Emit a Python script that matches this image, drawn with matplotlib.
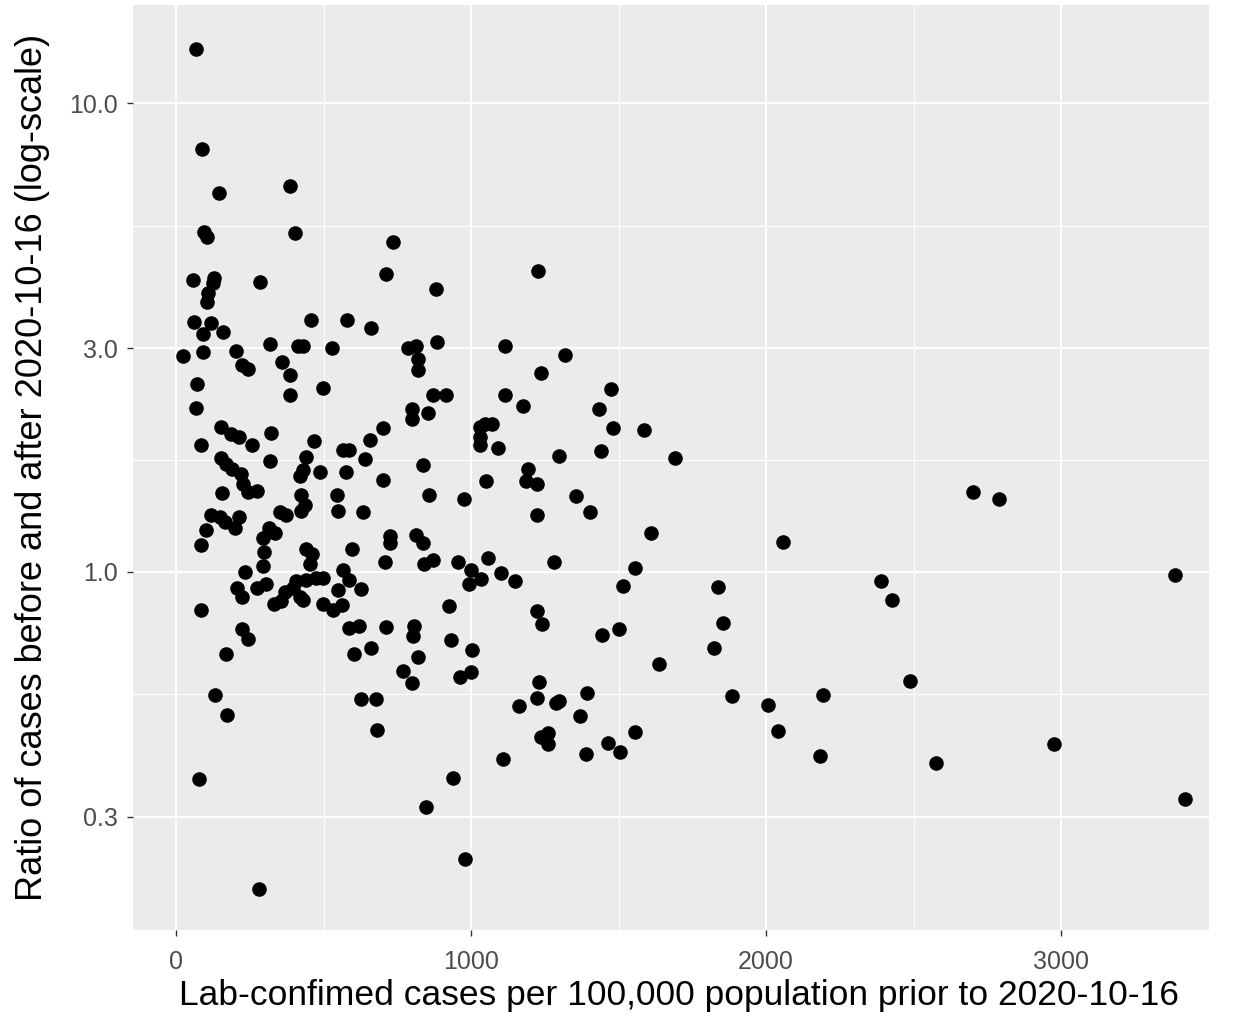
import matplotlib
matplotlib.use("Agg")
import matplotlib.pyplot as plt
from matplotlib.ticker import FixedLocator, NullFormatter
import numpy as np

plt.rcParams['font.family'] = ['Liberation Sans', 'DejaVu Sans']

# Lab-confirmed cases per 100,000 prior to 2020-10-16
cases_prior = [
    68, 87, 144, 385, 93, 104, 402, 734, 57, 128,
    125, 108, 104, 282, 712, 882, 59, 119, 91, 157,
    455, 578, 661, 21, 91, 202, 318, 412, 429, 529,
    785, 811, 819, 819, 883, 222, 243, 359, 385, 385,
    497, 70, 65, 869, 915, 798, 799, 853, 153, 185,
    212, 255, 322, 83, 468, 153, 170, 190, 218, 226,
    243, 274, 316, 441, 429, 419, 488, 154, 119, 149,
    164, 213, 198, 102, 82, 351, 373, 423, 435, 423,
    315, 334, 294, 296, 294, 440, 461, 453, 700, 655,
    565, 584, 638, 574, 700, 836, 857, 545, 548, 633,
    723, 723, 812, 836, 597, 709, 841, 870, 954, 976,
    1058, 233, 204, 221, 272, 305, 407, 441, 475, 497,
    367, 396, 330, 356, 418, 429, 565, 586, 548, 627,
    496, 531, 562, 82, 224, 243, 170, 584, 621, 712,
    806, 804, 659, 604, 819, 930, 1003, 768, 800, 962,
    1000, 130, 173, 627, 678, 681, 77, 937, 845, 979,
    280, 1000, 1033, 994, 924, 1228, 1115, 1319, 1237, 1115,
    1174, 1474, 1434, 1479, 1586, 1028, 1045, 1071, 1028, 1030,
    1090, 1299, 1441, 1690, 1191, 1186, 1222, 1050, 1355, 1404,
    1222, 1611, 2058, 1101, 1150, 1282, 1555, 1516, 1835, 1222,
    1240, 1443, 1502, 1852, 1823, 1637, 1231, 1222, 1163, 1287,
    1296, 1391, 1370, 1883, 2005, 2040, 1237, 1259, 1259, 1462,
    1505, 1389, 1556, 1107, 2701, 2791, 2391, 2425, 3387, 2489,
    2192, 2181, 2577, 2975, 3421,
]

# Ratio of cases before and after 2020-10-16
case_ratio = [
    13.06, 7.98, 6.44, 6.67, 5.30, 5.17, 5.28, 5.05, 4.20, 4.23,
    4.13, 3.93, 3.76, 4.16, 4.31, 4.02, 3.42, 3.40, 3.21, 3.25,
    3.45, 3.45, 3.32, 2.89, 2.94, 2.96, 3.06, 3.04, 3.03, 3.01,
    3.01, 3.03, 2.84, 2.69, 3.09, 2.76, 2.71, 2.81, 2.63, 2.38,
    2.47, 2.52, 2.24, 2.38, 2.38, 2.23, 2.12, 2.18, 2.04, 1.97,
    1.94, 1.86, 1.98, 1.86, 1.90, 1.75, 1.70, 1.66, 1.62, 1.54,
    1.48, 1.49, 1.72, 1.76, 1.65, 1.60, 1.63, 1.47, 1.32, 1.31,
    1.28, 1.31, 1.24, 1.23, 1.14, 1.34, 1.32, 1.46, 1.39, 1.35,
    1.24, 1.21, 1.18, 1.10, 1.03, 1.12, 1.09, 1.04, 2.03, 1.91,
    1.82, 1.82, 1.74, 1.63, 1.57, 1.69, 1.46, 1.46, 1.35, 1.34,
    1.19, 1.15, 1.20, 1.15, 1.12, 1.05, 1.04, 1.06, 1.05, 1.43,
    1.07, 1.00, 0.925, 0.884, 0.922, 0.941, 0.958, 0.959, 0.968, 0.968,
    0.906, 0.922, 0.855, 0.866, 0.883, 0.870, 1.01, 0.961, 0.915, 0.921,
    0.853, 0.830, 0.851, 0.828, 0.756, 0.717, 0.666, 0.758, 0.766, 0.762,
    0.766, 0.729, 0.686, 0.666, 0.658, 0.715, 0.681, 0.614, 0.578, 0.597,
    0.612, 0.547, 0.494, 0.535, 0.535, 0.459, 0.361, 0.363, 0.315, 0.244,
    0.210, 1.01, 0.963, 0.940, 0.845, 4.38, 3.03, 2.90, 2.65, 2.38,
    2.26, 2.46, 2.23, 2.03, 2.01, 2.04, 2.07, 2.07, 1.94, 1.86,
    1.84, 1.77, 1.81, 1.75, 1.66, 1.56, 1.54, 1.56, 1.45, 1.34,
    1.32, 1.21, 1.16, 0.995, 0.957, 1.05, 1.02, 0.932, 0.929, 0.826,
    0.772, 0.733, 0.755, 0.776, 0.688, 0.635, 0.581, 0.537, 0.517, 0.524,
    0.530, 0.550, 0.493, 0.543, 0.519, 0.457, 0.444, 0.452, 0.428, 0.431,
    0.412, 0.409, 0.455, 0.398, 1.48, 1.43, 0.955, 0.870, 0.982, 0.585,
    0.545, 0.404, 0.391, 0.430, 0.328,
]

x_breaks = [0, 1000, 2000, 3000]
x_labels = ["0", "1000", "2000", "3000"]
x_minor = [500, 1500, 2500, 3500]
y_breaks = [0.3, 1.0, 3.0, 10.0]
y_labels = ["0.3", "1.0", "3.0", "10.0"]
y_minor = [0.5477, 1.732, 5.477]

W, H = 1238, 1016
fig = plt.figure(figsize=(W / 100, H / 100), dpi=100)
ax = fig.add_axes([133 / W, 1 - 930 / H, (1210 - 133) / W, (930 - 5) / H])
ax.set_facecolor("#EBEBEB")

ax.scatter(cases_prior, case_ratio, s=110, color="black", linewidths=0, zorder=3)

ax.set_yscale("log")
ax.set_xlim(-147, 3505)
ax.set_ylim(0.172, 16.2)

ax.xaxis.set_major_locator(FixedLocator(x_breaks))
ax.set_xticklabels(x_labels)
ax.xaxis.set_minor_locator(FixedLocator(x_minor))
ax.yaxis.set_major_locator(FixedLocator(y_breaks))
ax.set_yticklabels(y_labels)
ax.yaxis.set_minor_locator(FixedLocator(y_minor))
ax.yaxis.set_minor_formatter(NullFormatter())

ax.grid(which="major", color="white", linewidth=1.5, zorder=1)
ax.grid(which="minor", color="white", linewidth=0.75, zorder=1)
ax.set_axisbelow(True)

for s in ax.spines.values():
    s.set_visible(False)

ax.tick_params(which="major", length=4, width=1.0, color="#333333",
               labelcolor="#4D4D4D", labelsize=18)
ax.tick_params(axis="x", which="major", pad=10.5)
ax.tick_params(axis="y", which="major", pad=7)
ax.tick_params(which="minor", length=0)

ax.set_xlabel("Lab-confimed cases per 100,000 population prior to 2020-10-16",
              fontsize=25.5, color="black")
ax.set_ylabel("Ratio of cases before and after 2020-10-16 (log-scale)",
              fontsize=26, color="black")
ax.xaxis.set_label_coords(0.507, (930 - 979) / 925)
ax.yaxis.set_label_coords((50.5 - 133) / 1077, 0.5)

fig.savefig("out.png", dpi=100)
